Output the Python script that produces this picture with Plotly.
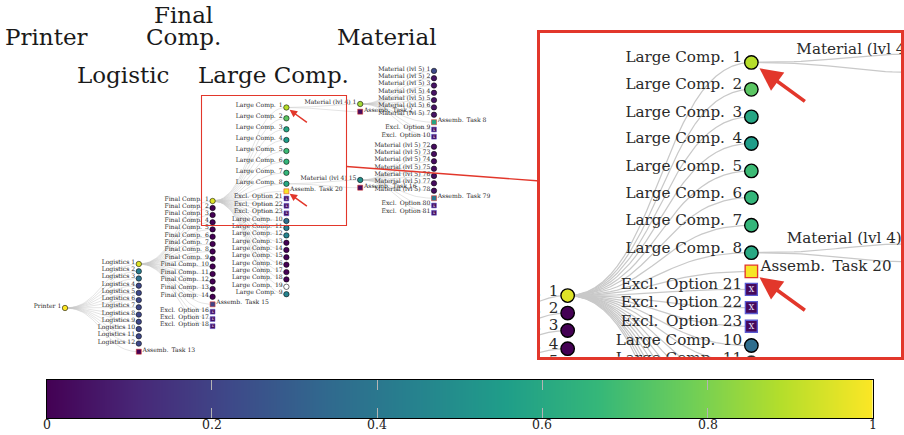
import numpy as np
import plotly.graph_objects as go

# ---------------- data: tree nodes, one group per parent ----------------
# kinds: "c" = component (circle), "a" = assembly task (square, red edge), "x" = excluded option
PRINTER_NAMES = ["Printer 1"]
PRINTER_Y = [308.0]
PRINTER_VALUE = [1.0]
PRINTER_KIND = ["c"]

LOGISTIC_NAMES = [f"Logistics {i}" for i in range(1, 13)] + ["Assemb. Task 13"]
LOGISTIC_Y = [264.0, 271.3, 278.5, 285.7, 292.9, 300.1, 307.3, 314.6, 321.8, 329.0, 336.3, 343.6, 351.7]
LOGISTIC_VALUE = [0.95, 0.42, 0.37, 0.22, 0.22, 0.22, 0.22, 0.22, 0.22, 0.22, 0.22, 0.22, 0.0]
LOGISTIC_KIND = ["c"] * 12 + ["a"]

FINAL_NAMES = [f"Final Comp. {i}" for i in range(1, 15)] + ["Assemb. Task 15", "Excl. Option 16",
                                                           "Excl. Option 17", "Excl. Option 18"]
FINAL_Y = [201.0, 208.0, 215.0, 222.3, 229.4, 236.7, 244.0, 251.5, 258.8, 266.5, 274.0, 281.5,
           289.0, 296.8, 304.3, 311.7, 319.0, 326.2]
FINAL_VALUE = [0.95] + [0.0] * 13 + [0.2, 0.02, 0.02, 0.02]
FINAL_KIND = ["c"] * 14 + ["a", "x", "x", "x"]

LARGE_NAMES = ([f"Large Comp. {i}" for i in range(1, 9)] + ["Assemb. Task 20", "Excl. Option 21",
               "Excl. Option 22", "Excl. Option 23"] + [f"Large Comp. {i}" for i in range(10, 20)]
               + ["Large Comp. 9"])
LARGE_Y = [107.5, 118.3, 129.3, 140.0, 151.0, 161.7, 172.8, 183.8, 191.3, 198.5, 205.8, 213.3,
           221.0, 228.0, 235.4, 242.8, 250.0, 257.3, 264.7, 272.1, 279.4, 286.8, 294.2]
LARGE_VALUE = [0.89, 0.74, 0.59, 0.55, 0.68, 0.66, 0.66, 0.6, 0.99, 0.02, 0.02, 0.02,
               0.36, 0.42, 0.45, 0.0, 0.0, 0.0, 0.0, 0.0, 0.0, None, 0.45]
LARGE_KIND = ["c"] * 8 + ["a", "x", "x", "x"] + ["c"] * 11

MAT4A_NAMES = ["Material (lvl 4) 1", "Assemb. Task 2"]
MAT4A_Y = [104.0, 111.7]
MAT4A_VALUE = [0.86, 0.03]
MAT4A_KIND = ["c", "a"]

MAT4B_NAMES = ["Material (lvl 4) 15", "Assemb. Task 16"]
MAT4B_Y = [180.0, 187.7]
MAT4B_VALUE = [0.5, 0.03]
MAT4B_KIND = ["c", "a"]

MAT5A_NAMES = [f"Material (lvl 5) {i}" for i in range(1, 8)] + ["Assemb. Task 8", "Excl. Option 9",
                                                               "Excl. Option 10"]
MAT5A_Y = [70.9, 78.2, 85.5, 92.8, 100.1, 107.4, 114.7, 122.2, 129.5, 136.7]
MAT5A_VALUE = [0.22, 0.05, 0.05, 0.05, 0.05, 0.05, 0.05, 0.58, 0.02, 0.02]
MAT5A_KIND = ["c"] * 7 + ["a", "x", "x"]

MAT5B_NAMES = [f"Material (lvl 5) {i}" for i in range(72, 79)] + ["Assemb. Task 79", "Excl. Option 80",
                                                                 "Excl. Option 81"]
MAT5B_Y = [146.7, 154.0, 161.3, 168.7, 176.0, 183.3, 190.7, 198.2, 205.5, 212.8]
MAT5B_VALUE = [0.03] * 7 + [0.4, 0.02, 0.02]
MAT5B_KIND = ["c"] * 7 + ["a", "x", "x"]

# (parent name, depth, names, y, values, kinds)
GROUPS = [
    (None, 0, PRINTER_NAMES, PRINTER_Y, PRINTER_VALUE, PRINTER_KIND),
    ("Printer 1", 1, LOGISTIC_NAMES, LOGISTIC_Y, LOGISTIC_VALUE, LOGISTIC_KIND),
    ("Logistics 1", 2, FINAL_NAMES, FINAL_Y, FINAL_VALUE, FINAL_KIND),
    ("Final Comp. 1", 3, LARGE_NAMES, LARGE_Y, LARGE_VALUE, LARGE_KIND),
    ("Large Comp. 1", 4, MAT4A_NAMES, MAT4A_Y, MAT4A_VALUE, MAT4A_KIND),
    ("Large Comp. 8", 4, MAT4B_NAMES, MAT4B_Y, MAT4B_VALUE, MAT4B_KIND),
    ("Material (lvl 4) 1", 5, MAT5A_NAMES, MAT5A_Y, MAT5A_VALUE, MAT5A_KIND),
    ("Material (lvl 4) 15", 5, MAT5B_NAMES, MAT5B_Y, MAT5B_VALUE, MAT5B_KIND),
]

COLUMN_TITLES = [("Printer", -0.25, 37.1), ("Logistic", 0.78, 75.1), ("Final", 1.6, 14.8),
                 ("Comp.", 1.6, 37.1), ("Large Comp.", 2.82, 75.1), ("Material", 4.36, 37.1)]

ARROW_TARGETS = ["Large Comp. 1", "Assemb. Task 20"]

CB_TICKS = [0, 0.2, 0.4, 0.6, 0.8, 1]
CB_TICKTEXT = ["0", "0.2", "0.4", "0.6", "0.8", "1"]

# ---------------- layout constants ----------------
W, H = 904, 435
X0, DX = 65.0, 73.8                      # pixel of depth 0, pixels per depth
MAIN_X_RANGE = [(0 - X0) / DX, (W - X0) / DX]
MAIN_Y_RANGE = [H, 0]
ZOOM_X_RANGE = [(201.5 - X0) / DX, (346.5 - X0) / DX]
ZOOM_Y_RANGE = [225.5, 95.5]
INSET_PX = (540, 901, 32.5, 356.7)       # left, right, top, bottom
CB_PX = (46.5, 873, 380, 418)            # left, right, top, bottom
RED = "#e2372b"
FONT = "DejaVu Serif"

# ---------------- assemble nodes / edges ----------------
nodes = {}
order = []
edges = []
for parent, depth, names, ys, vals, kinds in GROUPS:
    for n, y, v, k in zip(names, ys, vals, kinds):
        nodes[n] = dict(x=depth, y=y, v=v, k=k)
        order.append(n)
        if parent is not None:
            edges.append((parent, n))


def shown(name):
    # LaTeX-like wider space after an abbreviation period
    return name.replace(". ", ".\u2002")


def bezier(p, c, n=28):
    t = np.linspace(0, 1, n)
    mx = (p["x"] + c["x"]) / 2
    bx = (1 - t) ** 3 * p["x"] + 3 * (1 - t) ** 2 * t * mx + 3 * (1 - t) * t ** 2 * mx + t ** 3 * c["x"]
    by = (1 - t) ** 3 * p["y"] + 3 * (1 - t) ** 2 * t * p["y"] + 3 * (1 - t) * t ** 2 * c["y"] + t ** 3 * c["y"]
    return list(bx), list(by)


def tree_traces(xa, ya, k, yrange=None, xmax=None):
    tr = []
    ex, ey = [], []
    for p, c in edges:
        bx, by = bezier(nodes[p], nodes[c])
        ex += bx + [None]
        ey += by + [None]
    tr.append(go.Scatter(x=ex, y=ey, mode="lines", line=dict(color="#c9c9c9", width=0.5 * k),
                         hoverinfo="skip", xaxis=xa, yaxis=ya))

    def visible(d):
        if yrange is not None and not (min(yrange) - 6 <= d["y"] <= max(yrange) + 6):
            return False
        if xmax is not None and d["x"] > xmax:
            return False
        return True

    def sel(cond):
        return [n for n in order if visible(nodes[n]) and cond(nodes[n])]

    circ = sel(lambda d: d["k"] == "c" and d["v"] is not None)
    white = sel(lambda d: d["k"] == "c" and d["v"] is None)
    asm = sel(lambda d: d["k"] == "a")
    exc = sel(lambda d: d["k"] == "x")
    common = dict(colorscale="Viridis", cmin=0, cmax=1)
    tr.append(go.Scatter(x=[nodes[n]["x"] for n in circ], y=[nodes[n]["y"] for n in circ], mode="markers",
                         marker=dict(symbol="circle", size=5.4 * k, color=[nodes[n]["v"] for n in circ],
                                     line=dict(color="black", width=0.55 * k), **common),
                         hoverinfo="skip", xaxis=xa, yaxis=ya))
    if white:
        tr.append(go.Scatter(x=[nodes[n]["x"] for n in white], y=[nodes[n]["y"] for n in white],
                             mode="markers",
                             marker=dict(symbol="circle", size=5.4 * k, color="white",
                                         line=dict(color="black", width=0.55 * k)),
                             hoverinfo="skip", xaxis=xa, yaxis=ya))
    tr.append(go.Scatter(x=[nodes[n]["x"] for n in asm], y=[nodes[n]["y"] for n in asm], mode="markers",
                         marker=dict(symbol="square", size=5.0 * k, color=[nodes[n]["v"] for n in asm],
                                     line=dict(color=RED, width=0.55 * k), **common),
                         hoverinfo="skip", xaxis=xa, yaxis=ya))
    tr.append(go.Scatter(x=[nodes[n]["x"] for n in exc], y=[nodes[n]["y"] for n in exc], mode="markers",
                         marker=dict(symbol="square", size=4.8 * k, color=[nodes[n]["v"] for n in exc],
                                     line=dict(color="#5a5ad2", width=0.55 * k), **common),
                         hoverinfo="skip", xaxis=xa, yaxis=ya))
    tr.append(go.Scatter(x=[nodes[n]["x"] for n in exc], y=[nodes[n]["y"] for n in exc], mode="text",
                         text=["x"] * len(exc), textposition="middle center",
                         textfont=dict(family=FONT, size=4.2 * k, color="#ddd6ee"),
                         hoverinfo="skip", xaxis=xa, yaxis=ya))
    # labels: baseline at node centre, left of node (assembly tasks on the right)
    left = [n for n in order if visible(nodes[n]) and nodes[n]["k"] != "a"]
    right = [n for n in asm if xmax is None or nodes[n]["x"] < xmax]
    lab_font = dict(family=FONT, size=6.1 * k, color="#2a2a2a")
    tr.append(go.Scatter(x=[nodes[n]["x"] - 0.05 for n in left], y=[nodes[n]["y"] - 1.55 for n in left],
                         mode="text", text=[shown(n) for n in left], textposition="middle left",
                         textfont=lab_font, hoverinfo="skip", xaxis=xa, yaxis=ya))
    tr.append(go.Scatter(x=[nodes[n]["x"] + 0.05 for n in right], y=[nodes[n]["y"] - 1.55 for n in right],
                         mode="text", text=[shown(n) for n in right], textposition="middle right",
                         textfont=lab_font, hoverinfo="skip", xaxis=xa, yaxis=ya))
    return tr


fig = go.Figure()
for t in tree_traces("x", "y", 1.0):
    fig.add_trace(t)
ZOOM_K = (INSET_PX[1] - INSET_PX[0]) / ((ZOOM_X_RANGE[1] - ZOOM_X_RANGE[0]) * DX)
for t in tree_traces("x2", "y2", ZOOM_K, yrange=ZOOM_Y_RANGE, xmax=ZOOM_X_RANGE[1] + 0.5):
    fig.add_trace(t)

# colour bar as a smooth heatmap strip
fig.add_trace(go.Heatmap(z=[CB_TICKS, CB_TICKS], x=CB_TICKS, y=[0, 1], zsmooth="best",
                         colorscale="Viridis", zmin=0, zmax=1, showscale=False,
                         hoverinfo="skip", xaxis="x3", yaxis="y3"))

annotations = []
for txt, x, y in COLUMN_TITLES:
    annotations.append(dict(text=txt, x=x, y=y, xref="x", yref="y", showarrow=False,
                            xanchor="center", yanchor="middle",
                            font=dict(family=FONT, size=23, color="#1a1a1a")))
for n in ARROW_TARGETS:
    d = nodes[n]
    annotations.append(dict(text="", x=d["x"], y=d["y"], xref="x", yref="y", showarrow=True,
                            ax=22, ay=16, arrowhead=2, arrowsize=1.0, arrowwidth=1.5,
                            arrowcolor=RED, standoff=4))
    annotations.append(dict(text="", x=d["x"], y=d["y"], xref="x2", yref="y2", showarrow=True,
                            ax=55, ay=40, arrowhead=2, arrowsize=1.25, arrowwidth=3.6,
                            arrowcolor=RED, standoff=10))
for t, lab in zip(CB_TICKS, CB_TICKTEXT):
    annotations.append(dict(text=lab, x=t, y=1 - CB_PX[3] / H, xref="x3", yref="paper",
                            showarrow=False, xanchor="center", yanchor="top", yshift=3,
                            font=dict(family=FONT, size=12.5, color="#222")))

shapes = [
    dict(type="rect", xref="x", yref="y", x0=ZOOM_X_RANGE[0], x1=ZOOM_X_RANGE[1],
         y0=ZOOM_Y_RANGE[1], y1=ZOOM_Y_RANGE[0], line=dict(color=RED, width=1.1)),
    dict(type="line", xref="paper", yref="paper", x0=346.5 / W, y0=1 - 166.5 / H,
         x1=INSET_PX[0] / W, y1=1 - 181 / H, line=dict(color=RED, width=1.3)),
]

hidden = dict(visible=False, showgrid=False, zeroline=False, automargin=False)
fig.update_layout(
    width=W, height=H, margin=dict(l=0, r=0, t=0, b=0, pad=0, autoexpand=False),
    paper_bgcolor="white", plot_bgcolor="white", showlegend=False,
    xaxis=dict(domain=[0, 1], range=MAIN_X_RANGE, anchor="y", **hidden),
    yaxis=dict(domain=[0, 1], range=MAIN_Y_RANGE, anchor="x", **hidden),
    xaxis2=dict(domain=[INSET_PX[0] / W, INSET_PX[1] / W], range=ZOOM_X_RANGE, anchor="y2",
                showline=True, mirror=True, linecolor=RED, linewidth=2.5, showgrid=False,
                zeroline=False, showticklabels=False, ticks="", automargin=False),
    yaxis2=dict(domain=[1 - INSET_PX[3] / H, 1 - INSET_PX[2] / H], range=ZOOM_Y_RANGE, anchor="x2",
                showline=True, mirror=True, linecolor=RED, linewidth=2.5, showgrid=False,
                zeroline=False, showticklabels=False, ticks="", automargin=False),
    xaxis3=dict(domain=[CB_PX[0] / W, CB_PX[1] / W], range=[0, 1], anchor="y3", tickvals=CB_TICKS,
                ticks="inside", ticklen=10, tickcolor="#b4b4b4", tickwidth=1,
                showline=True, linecolor="black", linewidth=1, mirror="ticks", showgrid=False,
                zeroline=False, automargin=False, showticklabels=False),
    yaxis3=dict(domain=[1 - CB_PX[3] / H, 1 - CB_PX[2] / H], range=[0, 1], anchor="x3", showline=True,
                mirror=True, linecolor="black", linewidth=1, showgrid=False, zeroline=False,
                showticklabels=False, ticks="", automargin=False),
    annotations=annotations, shapes=shapes,
)

PAGE_FIX = ("document.documentElement.style.margin='0';document.body.style.margin='0';"
            "document.body.style.padding='0';document.documentElement.style.overflow='hidden';"
            "document.body.style.overflow='hidden';")
fig.write_html("out.html", post_script=PAGE_FIX, config={"displayModeBar": False})
